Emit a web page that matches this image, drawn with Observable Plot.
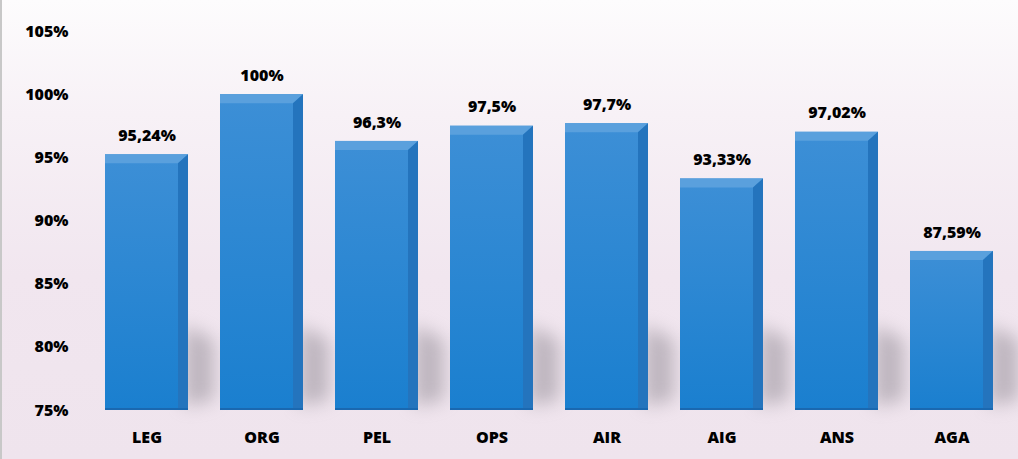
<!DOCTYPE html>
<html>
<head>
<meta charset="utf-8">
<script src="https://cdn.jsdelivr.net/npm/d3@7"></script>
<script src="https://cdn.jsdelivr.net/npm/@observablehq/plot@0.6"></script>
<style>
  html, body { margin: 0; padding: 0; background: #fff; }
  #chart svg { display: block; }
</style>
</head>
<body>
<div id="chart"></div>
<script>
const categories = ["LEG", "ORG", "PEL", "OPS", "AIR", "AIG", "ANS", "AGA"];
const values = [95.24, 100, 96.3, 97.5, 97.7, 93.33, 97.02, 87.59];
const valueLabels = ["95,24%", "100%", "96,3%", "97,5%", "97,7%", "93,33%", "97,02%", "87,59%"];
const yTicks = [75, 80, 85, 90, 95, 100, 105];

const data = categories.map((c, i) => ({cat: c, value: values[i], label: valueLabels[i]}));

function bevelRender(index, scales, values, dims, context) {
  const g = d3.create("svg:g");
  const x = scales.x, y = scales.y;
  const bw = x.bandwidth();
  const defs = g.append("defs");
  defs.append("filter").attr("id", "shadowBlur").attr("x", "-50%").attr("y", "-50%").attr("width", "200%").attr("height", "200%")
    .append("feGaussianBlur").attr("stdDeviation", 9);
  const grad = defs.append("linearGradient").attr("id", "faceGrad").attr("x1", 0).attr("x2", 0).attr("y1", 0).attr("y2", 1);
  grad.append("stop").attr("offset", "0%").attr("stop-color", "#3d8fd6");
  grad.append("stop").attr("offset", "100%").attr("stop-color", "#1a7fcf");
  const y0 = y(75);
  for (const i of index) {
    const d = data[i];
    const x0 = x(d.cat), x1 = x0 + bw;
    const yt = y(d.value);
    const bev = 10, bevTop = 9;
    // shadow
    g.append("path")
      .attr("d", `M${x1 - 4},${y0 - 4} L${x1 + 26},${y0 - 10} L${x1 + 26},${y0 - 70} L${x1 - 4},${y0 - 85} Z`)
      .attr("fill", "#8c8690").attr("opacity", 0.5).attr("filter", "url(#shadowBlur)");
    // main face
    g.append("rect").attr("x", x0).attr("y", yt).attr("width", bw).attr("height", y0 - yt)
      .attr("fill", "url(#faceGrad)").attr("gradientUnits", "objectBoundingBox");
    // top bevel
    g.append("path")
      .attr("d", `M${x0},${yt} L${x1},${yt} L${x1 - bev},${yt + bevTop} L${x0},${yt + bevTop} Z`)
      .attr("fill", "#5aa0dd");
    // right bevel
    g.append("path")
      .attr("d", `M${x1},${yt} L${x1},${y0} L${x1 - bev},${y0} L${x1 - bev},${yt + bevTop} Z`)
      .attr("fill", "#2474bd");
    // bottom edge
    g.append("rect").attr("x", x0).attr("y", y0 - 2).attr("width", bw).attr("height", 2).attr("fill", "#1a68b0");
  }
  return g.node();
}

const chart = Plot.plot({
  width: 1018,
  height: 459,
  marginTop: 31,
  marginBottom: 49,
  marginLeft: 87,
  marginRight: 11,
  style: {
    background: "linear-gradient(to bottom, #fdfcfd 0%, #f7f1f6 25%, #f1e6ef 60%, #efe4ed 100%)",
    fontFamily: "'Open Sans', 'DejaVu Sans', sans-serif",
    fontWeight: "800",
    fontSize: "16px",
    color: "#000",
    borderLeft: "2px solid #c8c8c8"
  },
  x: {domain: categories, paddingInner: 0.28, paddingOuter: 0.14, label: null},
  y: {domain: [75, 105], label: null},
  marks: [
    Plot.barY(data, {x: "cat", y1: 75, y2: "value", render: bevelRender}),
    Plot.text(data, {x: "cat", y: "value", text: "label", dy: -19, fontSize: 16, fontWeight: 800, fill: "#000"}),
    Plot.axisX({tickSize: 0, tickPadding: 21, fontSize: 16, fontWeight: 800, label: null}),
    Plot.axisY({ticks: yTicks, tickFormat: d => d + "%", tickSize: 0, tickPadding: 21, fontSize: 16, fontWeight: 800, label: null})
  ]
});
document.getElementById("chart").appendChild(chart);
</script>
</body>
</html>
